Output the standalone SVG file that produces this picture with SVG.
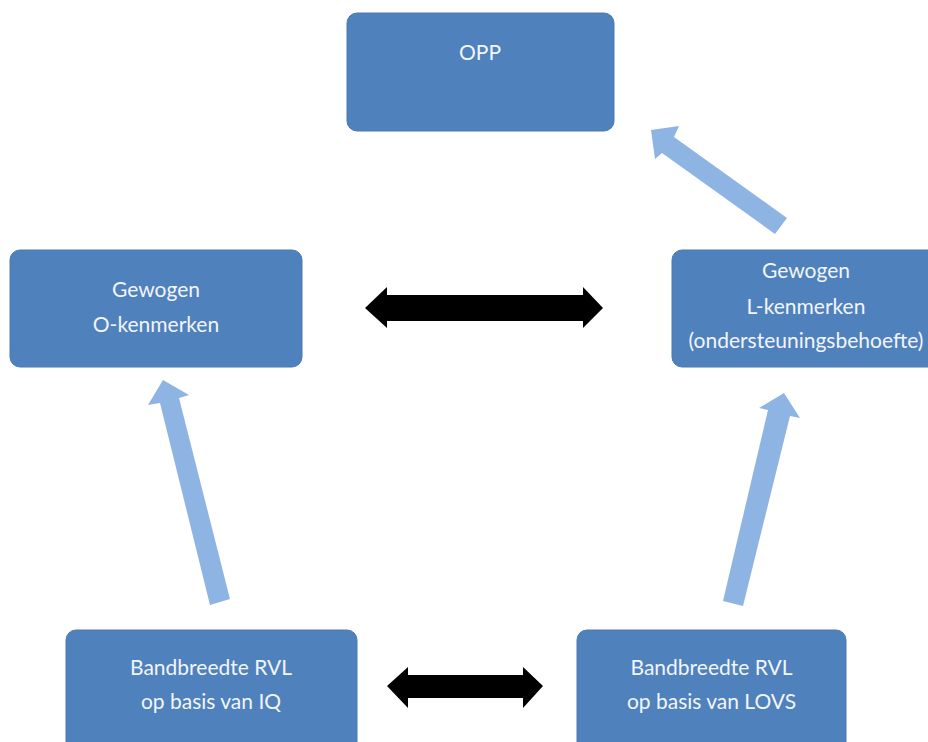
<svg xmlns="http://www.w3.org/2000/svg" width="928" height="742" viewBox="0 0 928 742">
<style>
.box{fill:#4F81BD;stroke:#4A7AB5;stroke-width:1}
.t{font-family:Lato,"Open Sans","Liberation Sans",sans-serif;font-size:21px;fill:#F2F5FA;text-anchor:middle}
.blue{fill:#8EB4E3}
.black{fill:#000}
</style>
<rect width="928" height="742" fill="#fff"/>
<g id="opp">
<rect class="box" x="347" y="13" width="267" height="118" rx="10"/>
<text class="t" x="480" y="60">OPP</text>
</g>
<g id="o-kenmerken">
<rect class="box" x="10" y="250" width="292" height="117" rx="10"/>
<text class="t" x="156" y="297">Gewogen</text>
<text class="t" x="156" y="332">O-kenmerken</text>
</g>
<g id="l-kenmerken">
<rect class="box" x="672" y="250" width="268" height="117" rx="10"/>
<text class="t" x="806" y="278">Gewogen</text>
<text class="t" x="806" y="314">L-kenmerken</text>
<text class="t" x="806" y="348">(ondersteuningsbehoefte)</text>
</g>
<g id="rvl-iq">
<rect class="box" x="66" y="630" width="291" height="130" rx="10"/>
<text class="t" x="211" y="675">Bandbreedte RVL</text>
<text class="t" x="211" y="709">op basis van IQ</text>
</g>
<g id="rvl-lovs">
<rect class="box" x="577" y="630" width="269" height="130" rx="10"/>
<text class="t" x="711.5" y="675">Bandbreedte RVL</text>
<text class="t" x="711.5" y="709">op basis van LOVS</text>
</g>
<g id="connectors">
<polygon class="black" points="365,308 387,287 387,295 583,295 583,287 603,308 583,328 583,321 387,321 387,328"/>
<polygon class="black" points="387,686 408,667 408,675 523,675 523,667 543,686 523,708 523,698 408,698 408,708"/>
<polygon class="blue" points="651,130 679,126 674,137 787,218 775,234 662,153 655,159"/>
<polygon class="blue" points="163,380 189,395 179,398 230,599 210,605 160,403 148,405"/>
<polygon class="blue" points="784,393 800,418 790,416 743,606 723,601 768,410 759,408"/>
</g>
</svg>
